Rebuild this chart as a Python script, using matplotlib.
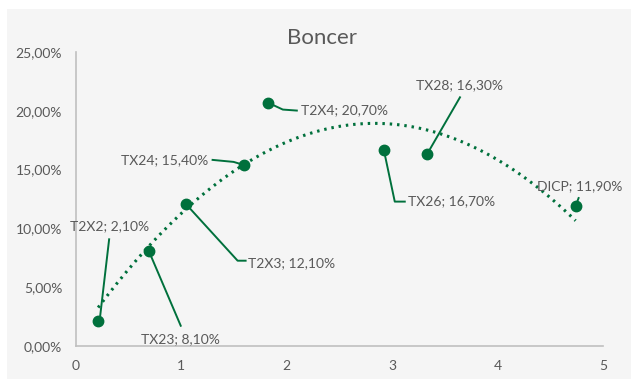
import matplotlib
matplotlib.use("Agg")
import matplotlib.pyplot as plt
import numpy as np
from matplotlib.patches import Rectangle

plt.rcParams['font.family'] = ['Lato', 'DejaVu Sans']

# data
names = ["T2X2", "TX23", "T2X3", "TX24", "T2X4", "TX26", "TX28", "DICP"]
x_vals = [0.21, 0.69, 1.04, 1.59, 1.82, 2.92, 3.33, 4.74]
y_vals = [2.10, 8.10, 12.10, 15.40, 20.70, 16.70, 16.30, 11.90]

# label layout: text offset (px), alignment, leader path offsets (px)
label_layout = [
    ((11, 95), "center", [(2, 5), (11, 82)]),
    ((32, -88), "center", [(0, 0), (32, -75)]),
    ((62, -59), "left", [(0, 0), (52, -57), (60, -57)]),
    ((-35, 5), "right", [(0, 0), (-10, 3), (-31, 5)]),
    ((33, -8), "left", [(0, 0), (15, -7), (29, -8)]),
    ((24, -52), "left", [(0, 0), (11, -52), (21, -52)]),
    ((33, 69), "center", [(0, 0), (33, 57)]),
    ((-39, 20), "left", [(0, 0), (3, 8)]),
]

green = "#00703c"
text_col = "#595959"

fig = plt.figure(figsize=(6.31, 3.79), dpi=100, facecolor="white")
fig.patches.append(Rectangle((7 / 631, 0), 1, 1 - 9 / 379, transform=fig.transFigure,
                             facecolor="#f5f5f5", edgecolor="none", zorder=-10))
ax = fig.add_axes([76 / 631, 1 - 346 / 379, 527 / 631, 294 / 379])
ax.set_facecolor("none")
ax.set_xlim(0, 5)
ax.set_ylim(0, 25)

# polynomial (order 2) trendline like Excel
coef = np.polyfit(x_vals, y_vals, 2)
xs = np.linspace(min(x_vals), max(x_vals), 200)
ax.plot(xs, np.polyval(coef, xs), color=green, lw=2.2, linestyle=(0, (0.8, 1.6)), zorder=2)

ax.plot(x_vals, y_vals, "o", color=green, markersize=7.5, zorder=4)

for spine in ["top", "right"]:
    ax.spines[spine].set_visible(False)
for spine in ["left", "bottom"]:
    ax.spines[spine].set_color("#bfbfbf")
    ax.spines[spine].set_linewidth(1.2)

ax.set_xticks(range(0, 6))
ax.set_yticks(np.arange(0, 26, 5))
ax.set_yticklabels([f"{v:.2f}%".replace(".", ",") for v in np.arange(0, 26, 5)])
ax.tick_params(axis="both", length=0, labelsize=10, labelcolor=text_col)
ax.tick_params(axis="y", pad=10)
ax.tick_params(axis="x", pad=10)

fig.text(322 / 631, 1 - 38 / 379, "Boncer", ha="center", va="center",
         fontsize=16, color=text_col)

to_disp = ax.transData
to_data = ax.transData.inverted()
for name, x, y, (toff, ha, path) in zip(names, x_vals, y_vals, label_layout):
    px, py = to_disp.transform((x, y))
    pts = to_data.transform([(px + dx, py + dy) for dx, dy in path])
    ax.plot(pts[:, 0], pts[:, 1], color=green, lw=1.4, zorder=3)
    label = f"{name}; {y:.2f}%".replace(".", ",")
    ax.annotate(label, (x, y), xytext=toff, textcoords="offset pixels",
                ha=ha, va="center", fontsize=10, color=text_col, zorder=5)

fig.savefig("out.png", dpi=100)
